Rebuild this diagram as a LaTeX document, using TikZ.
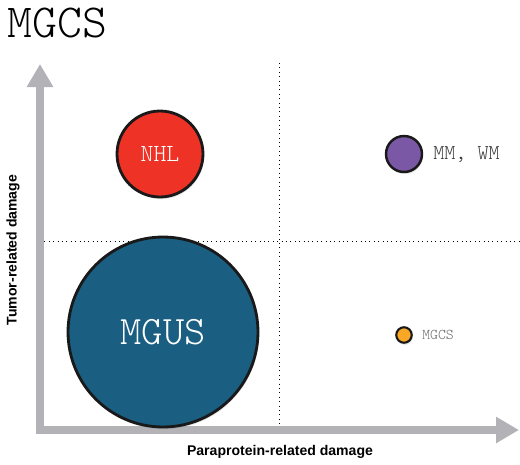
\documentclass[tikz,border=0pt]{standalone}
\usepackage{fontspec}
\usepackage{tikz}
\usepackage{xcolor}
\usetikzlibrary{arrows.meta,shadows}
\newfontfamily\axisfont{Liberation Sans}
\newfontfamily\typefont{lmmonolt10-regular.otf}

\definecolor{axisgray}{HTML}{B3B3B7}
\definecolor{nhlred}{HTML}{EF3226}
\definecolor{mgusblue}{HTML}{1A5F82}
\definecolor{mmpurple}{HTML}{7B58A6}
\definecolor{mgcsorange}{HTML}{F8A726}

\tikzset{
  bubble/.style={circle, draw=black!90, line width=1.6pt, inner sep=0pt,
    drop shadow={opacity=0.2, shadow xshift=0.6pt, shadow yshift=-1.2pt}},
  axislabel/.style={font=\axisfont\bfseries\fontsize{8}{9}\selectfont},
  quadline/.style={dotted, line width=0.5pt}
}

\begin{document}
\begin{tikzpicture}[x=0.02cm, y=-0.02cm]
\useasboundingbox (0,0) rectangle (520,464);

\node[anchor=west, inner sep=0pt, font=\typefont\fontsize{27}{30}\selectfont] (title) at (7,23) {MGCS};

% quadrant lines
\draw[quadline] (279,63) -- (279,430);
\draw[quadline] (40,241) -- (520,241);

% axes
\draw[axisgray, line width=4.5pt, line join=miter,
  {Triangle[width=0.5cm, length=0.46cm]}-{Triangle[width=0.5cm, length=0.46cm]}]
  (40,64) -- (40,430) -- (519,430);

\node[axislabel, rotate=90] (ylab) at (13,250) {Tumor-related damage};
\node[axislabel] (xlab) at (280,452) {Paraprotein-related damage};

% bubbles
\node[bubble, fill=nhlred, minimum size=1.72cm, font=\typefont\fontsize{14}{16}\selectfont, text=white] (nhl) at (160,154) {NHL};
\node[bubble, fill=mgusblue, minimum size=3.8cm, font=\typefont\fontsize{23}{26}\selectfont, text=white] (mgus) at (163,332) {MGUS};
\node[bubble, fill=mmpurple, minimum size=0.72cm, line width=1.4pt] (mm) at (404,154) {};
\node[bubble, fill=mgcsorange, minimum size=0.31cm, line width=1.2pt] (mgcs) at (404,335) {};

\node[anchor=west, inner sep=0pt, font=\typefont\fontsize{12}{14}\selectfont, text=black!80] (mmlab) at (433,155) {MM, WM};
\node[anchor=west, inner sep=0pt, font=\typefont\fontsize{8.5}{10}\selectfont, text=black!60] (mgcslab) at (422,335) {MGCS};
\end{tikzpicture}
\end{document}
